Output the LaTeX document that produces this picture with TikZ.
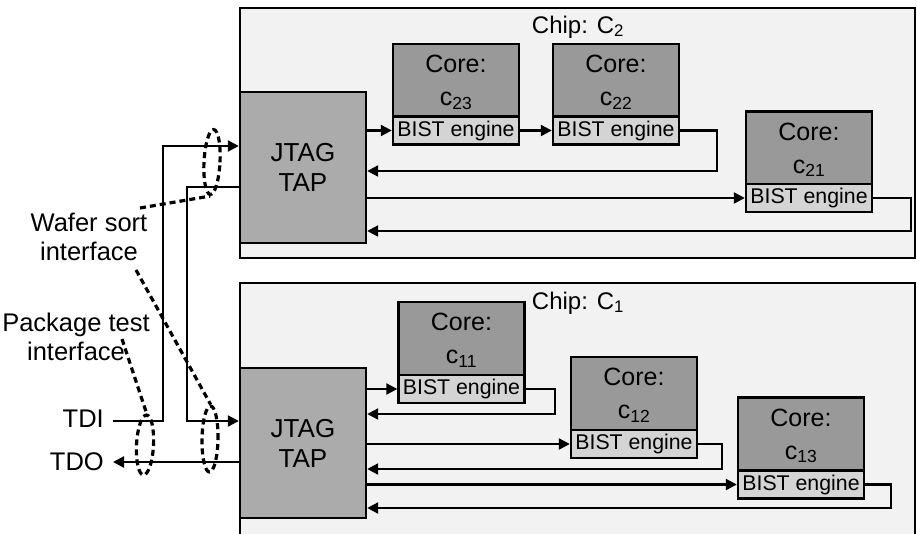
\documentclass[tikz,border=0pt]{standalone}
\usepackage{fontspec}
\setmainfont{Liberation Sans}
\usetikzlibrary{arrows.meta,shapes.geometric}
\definecolor{chipfill}{gray}{0.95}
\definecolor{jtagfill}{gray}{0.67}
\definecolor{corefill}{gray}{0.60}
\definecolor{bistfill}{gray}{0.83}
\begin{document}
\begin{tikzpicture}[x=1pt,y=-1pt,
  chipbox/.style={draw, line width=1.8pt, fill=chipfill, inner sep=0pt,
    minimum width=675pt},
  chiplabel/.style={inner sep=0pt, font=\fontsize{24}{28}\selectfont},
  jtag/.style={draw, line width=2.4pt, fill=jtagfill, inner sep=0pt,
    minimum width=126pt, minimum height=151pt, align=center,
    font=\fontsize{26}{30}\selectfont},
  corebox/.style={draw, line width=2.4pt, fill=corefill, inner sep=0pt,
    minimum width=126pt, minimum height=73pt, align=center, text depth=0pt,
    font=\fontsize{25}{33}\selectfont},
  bistbox/.style={draw, line width=2.4pt, fill=bistfill, inner sep=0pt,
    minimum width=126pt, minimum height=28pt,
    font=\fontsize{21.3}{24}\selectfont},
  lbl/.style={inner sep=0pt, align=center, font=\fontsize{25.5}{29}\selectfont},
  arr/.style={line width=2.2pt, -{Triangle[length=11pt,width=11pt]}},
  ring/.style={ellipse, draw, line width=3.2pt, dash pattern=on 6pt off 4pt,
    inner sep=0pt},
  wdash/.style={line width=3.2pt, dash pattern=on 6pt off 4pt}
]
\useasboundingbox (0,0) rectangle (917,533);
\clip (0,0) rectangle (917,533);

% chips
\node[chipbox, minimum height=250pt] (chip2) at (577.5,133) {};
\node[chipbox, minimum height=270pt] (chip1) at (577.5,418) {};
\node[chiplabel] (chip2lbl) at (578,27) {Chip: C\textsubscript{2}};
\node[chiplabel] (chip1lbl) at (578,303) {Chip: C\textsubscript{1}};

% JTAG TAPs
\node[jtag] (jt2) at (303,167.5) {JTAG\\TAP};
\node[jtag, minimum height=150pt] (jt1) at (303,443) {JTAG\\TAP};

% cores of chip 2
\node[corebox] (k23) at (456,80.5) {Core:\\c\textsubscript{23}};
\node[bistbox] (b23) at (456,130.5) {BIST engine};
\node[corebox] (k22) at (616,80.5) {Core:\\c\textsubscript{22}};
\node[bistbox] (b22) at (616,130.5) {BIST engine};
\node[corebox] (k21) at (809,148) {Core:\\c\textsubscript{21}};
\node[bistbox] (b21) at (809,198) {BIST engine};

% cores of chip 1
\node[corebox] (k11) at (461.5,338.5) {Core:\\c\textsubscript{11}};
\node[bistbox] (b11) at (461.5,389) {BIST engine};
\node[corebox] (k12) at (634,393.5) {Core:\\c\textsubscript{12}};
\node[bistbox] (b12) at (634,444) {BIST engine};
\node[corebox] (k13) at (801,434) {Core:\\c\textsubscript{13}};
\node[bistbox] (b13) at (801,484.5) {BIST engine};

% chip 2 wiring
\draw[arr] (jt2.east |- b23.west) -- (b23.west);
\draw[arr] (b23.east) -- (b22.west);
\draw[arr] (b22.east) -- ++(37,0) |- (jt2.east |- 0,171);
\draw[arr] (jt2.east |- b21.west) -- (b21.west);
\draw[arr] (b21.east) -- ++(38,0) |- (jt2.east |- 0,231);

% chip 1 wiring
\draw[arr] (jt1.east |- b11.west) -- (b11.west);
\draw[arr] (b11.east) -- ++(29,0) |- (jt1.east |- 0,414);
\draw[arr] (jt1.east |- b12.west) -- (b12.west);
\draw[arr] (b12.east) -- ++(24,0) |- (jt1.east |- 0,469);
\draw[arr] (jt1.east |- b13.west) -- (b13.west);
\draw[arr] (b13.east) -- ++(26,0) |- (jt1.east |- 0,508);

% board-level wiring
\node[lbl, anchor=east] (tdi) at (104,419) {TDI};
\node[lbl, anchor=east] (tdo) at (104,462) {TDO};
\coordinate (tdiend) at (113,421);
\coordinate (tdoend) at (113,462);
\draw[arr] (tdiend) -- (163,421) -- (163,146) -- (jt2.west |- 0,146);
\draw[arr] (jt2.west |- 0,187) -- (187,187) -- (187,421) -- (jt1.west |- 0,421);
\draw[arr] (jt1.west |- tdoend) -- (tdoend);

% interface annotations
\node[lbl] (wafer) at (89,236.5) {Wafer sort\\interface};
\node[lbl] (pkg) at (76,336.5) {Package test\\interface};
\node[ring, minimum width=16pt, minimum height=65pt, rotate=-3] (e1) at (212,162) {};
\node[ring, minimum width=16pt, minimum height=66pt, rotate=-1] (e2) at (210,439) {};
\node[ring, minimum width=17pt, minimum height=60pt, rotate=-3] (e3) at (145,445) {};
\coordinate (w1) at (140,208);
\coordinate (w2) at (136,270);
\coordinate (p1) at (122,339);
\draw[wdash] (w1) -- (e1.south);
\draw[wdash] (w2) -- (e2.north);
\draw[wdash] (p1) -- (e3.north);
\end{tikzpicture}
\end{document}
